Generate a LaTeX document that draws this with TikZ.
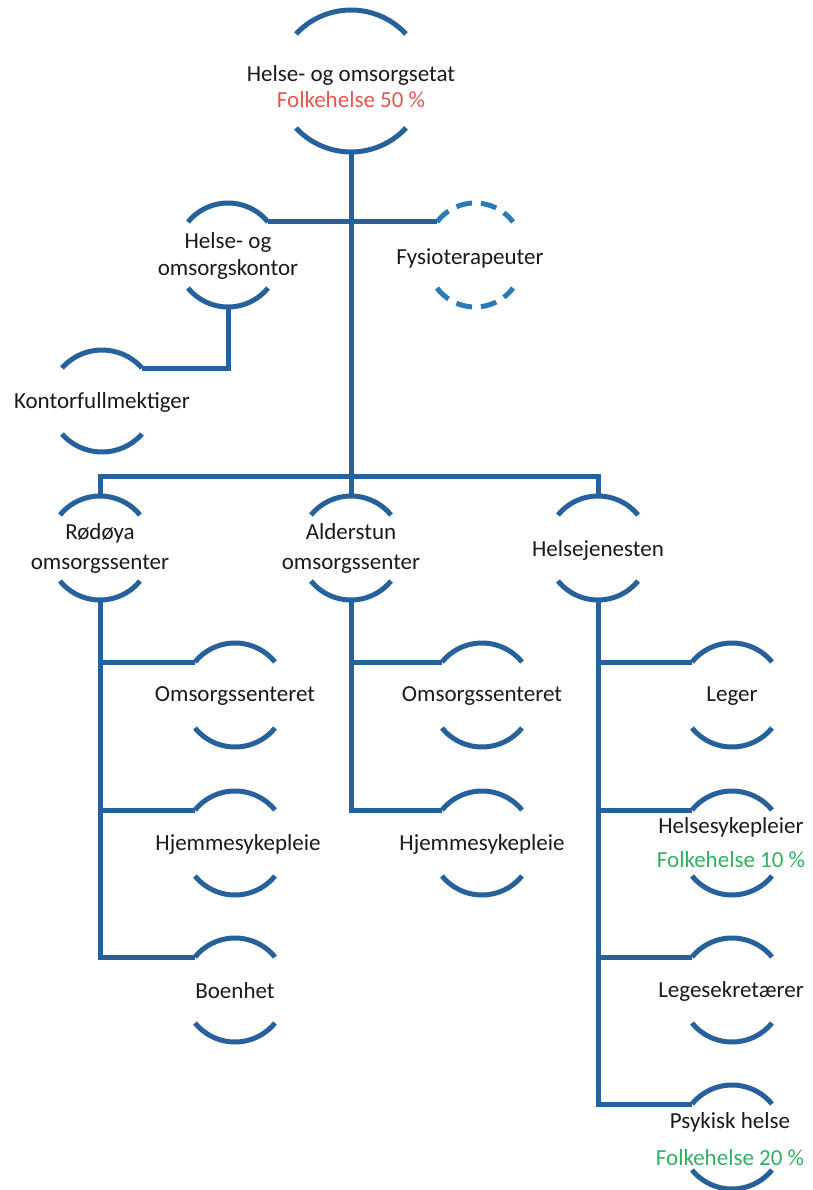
\documentclass[tikz,border=0pt]{standalone}
\usepackage{fontspec}
\setmainfont{Carlito}
\definecolor{orgblue}{HTML}{26619C}
\definecolor{dashblue}{HTML}{2A7AB8}
\definecolor{fhred}{HTML}{E8544E}
\definecolor{fhgreen}{HTML}{30B060}
\definecolor{txt}{HTML}{1A1A1A}
\tikzset{
  arcline/.style={draw=orgblue, line width=5pt},
  dasharc/.style={draw=dashblue, line width=5pt, dash pattern=on 16pt off 9pt},
  conn/.style={draw=orgblue, line width=5pt},
  lbl/.style={font=\fontsize{23}{28}\selectfont, text=txt, align=center, inner sep=0pt},
}
% #1 unit coordinate, #2 half chord, #3 half height, #4 sagitta, #5 style
\newcommand\orgarcs[5]{%
  \pgfmathsetmacro\myrr{(#2*#2+#4*#4)/(2*#4)}%
  \pgfmathsetmacro\myph{asin(#2/\myrr)}%
  \draw[#5] ([shift={(-#2,#3-#4)}]#1.center) arc[start angle=90+\myph, end angle=90-\myph, radius=\myrr];
  \draw[#5] ([shift={(-#2,-#3+#4)}]#1.center) arc[start angle=270-\myph, end angle=270+\myph, radius=\myrr];
  \coordinate (#1-t) at ([shift={(0,#3)}]#1.center);
  \coordinate (#1-b) at ([shift={(0,-#3)}]#1.center);
  \coordinate (#1-l) at ([shift={(-#2,#3-#4)}]#1.center);
  \coordinate (#1-r) at ([shift={(#2,#3-#4)}]#1.center);
}
\begin{document}
\begin{tikzpicture}[x=1pt,y=1pt]
\useasboundingbox (0,0) rectangle (812,-1190);

% top unit
\coordinate (top) at (351,-81);
\node[lbl] (top-txt) at (351,-87) {Helse- og omsorgsetat\\[-2pt]\textcolor{fhred}{Folkehelse 50 \%}};
\orgarcs{top}{55}{71}{24}{arcline}

% staff units
\coordinate (kontor) at (228,-255);
\node[lbl] (kontor-txt) at (228,-256) {Helse- og\\[-1pt]omsorgskontor};
\orgarcs{kontor}{40}{52}{19}{arcline}

\coordinate (fysio) at (475,-255);
\node[lbl] (fysio-txt) at (470,-258) {Fysioterapeuter};
\orgarcs{fysio}{38}{52}{19}{dasharc}

\coordinate (kf) at (102,-401);
\node[lbl] (kf-txt) at (102,-402) {Kontorfullmektiger};
\orgarcs{kf}{40}{51}{18}{arcline}

% level 2
\coordinate (rod) at (100,-548);
\node[lbl] (rod-txt) at (100,-548) {Rødøya\\[2pt]omsorgssenter};
\orgarcs{rod}{40}{52}{19}{arcline}

\coordinate (alder) at (351,-548);
\node[lbl] (alder-txt) at (351,-548) {Alderstun\\[2pt]omsorgssenter};
\orgarcs{alder}{40}{52}{19}{arcline}

\coordinate (hj) at (598,-548);
\node[lbl] (hj-txt) at (598,-550) {Helsejenesten};
\orgarcs{hj}{40}{52}{19}{arcline}

% Rødøya children
\coordinate (ro1) at (235,-695);
\node[lbl] (ro1-txt) at (235,-696) {Omsorgssenteret};
\orgarcs{ro1}{40}{52}{19}{arcline}
\coordinate (ro2) at (235,-843);
\node[lbl] (ro2-txt) at (238,-844) {Hjemmesykepleie};
\orgarcs{ro2}{40}{52}{19}{arcline}
\coordinate (ro3) at (235,-990);
\node[lbl] (ro3-txt) at (235,-991) {Boenhet};
\orgarcs{ro3}{40}{52}{19}{arcline}

% Alderstun children
\coordinate (al1) at (482,-695);
\node[lbl] (al1-txt) at (482,-696) {Omsorgssenteret};
\orgarcs{al1}{40}{52}{19}{arcline}
\coordinate (al2) at (482,-843);
\node[lbl] (al2-txt) at (482,-844) {Hjemmesykepleie};
\orgarcs{al2}{40}{52}{19}{arcline}

% Helsejenesten children
\coordinate (hj1) at (732,-695);
\node[lbl] (hj1-txt) at (732,-696) {Leger};
\orgarcs{hj1}{40}{52}{19}{arcline}
\coordinate (hj2) at (732,-843);
\node[lbl] (hj2-txt) at (731,-843) {Helsesykepleier\\[6pt]\textcolor{fhgreen}{Folkehelse 10 \%}};
\orgarcs{hj2}{40}{52}{19}{arcline}
\coordinate (hj3) at (732,-990);
\node[lbl] (hj3-txt) at (731,-991) {Legesekretærer};
\orgarcs{hj3}{40}{52}{19}{arcline}
\coordinate (hj4) at (732,-1137);
\node[lbl] (hj4-txt) at (730,-1139) {Psykisk helse\\[9pt]\textcolor{fhgreen}{Folkehelse 20 \%}};
\orgarcs{hj4}{40}{52}{19}{arcline}

% connectors
\coordinate (bar) at (351,-476);
\draw[conn] (top-b) -- (alder-t);
\draw[conn] (kontor-r) -- (fysio-l);
\draw[conn] (kontor-b) |- (kf-r);
\draw[conn] (rod-t) |- (bar) -| (hj-t);
\draw[conn] (rod-b) |- (ro1-l);
\draw[conn] (rod-b) |- (ro2-l);
\draw[conn] (rod-b) |- (ro3-l);
\draw[conn] (alder-b) |- (al1-l);
\draw[conn] (alder-b) |- (al2-l);
\draw[conn] (hj-b) |- (hj1-l);
\draw[conn] (hj-b) |- (hj2-l);
\draw[conn] (hj-b) |- (hj3-l);
\draw[conn] (hj-b) |- (hj4-l);
\end{tikzpicture}
\end{document}
